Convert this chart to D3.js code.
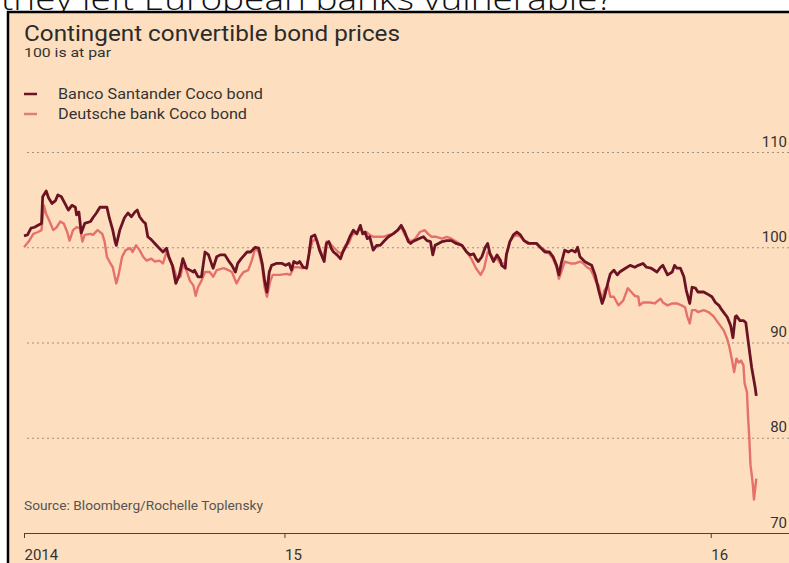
<!DOCTYPE html>
<html>
<head>
<meta charset="utf-8">
<script src="https://cdn.jsdelivr.net/npm/d3@7"></script>
<style>
  body { margin: 0; background: #fff; }
  svg { display: block; }
  text { font-family: Roboto, "Liberation Sans", sans-serif; }
</style>
</head>
<body>
<svg id="chart" width="789" height="563"></svg>
<script>
const startDate = new Date(2014, 4, 23);
const endDate = new Date(2016, 2, 8);

const xTickDates = [new Date(2014, 4, 23), new Date(2015, 0, 1), new Date(2016, 0, 1)];
const xTickLabels = ['2014', '15', '16'];
const yTicks = [70, 80, 90, 100, 110];

const seriesNames = ['Banco Santander Coco bond', 'Deutsche bank Coco bond'];

const santanderDay = [0,3,6,9,12,15,16,19,21,24,27,29,32,35,38,41,44,45,47,49,52,57,59,62,65,69,71,73,76,78,
  79,82,86,89,92,95,97,99,102,104,106,109,112,115,119,122,124,127,130,133,136,139,142,145,146,149,152,155,158,161,
  162,165,168,172,175,178,181,183,186,191,194,198,201,204,206,208,210,212,216,221,224,227,229,231,234,236,239,242,244,246,
  249,251,253,256,257,259,261,263,265,268,271,273,276,279,282,285,288,290,292,294,296,299,302,305,308,312,316,320,323,326,
  329,331,333,338,342,345,348,350,352,355,358,362,366,370,375,379,382,385,387,389,392,395,397,399,402,405,408,409,412,413,
  416,419,422,425,428,432,436,439,442,446,450,453,456,458,460,463,466,469,472,474,476,480,483,486,489,492,495,497,500,502,
  505,508,510,515,519,523,526,530,533,537,542,545,547,551,555,557,559,562,565,567,570,572,575,577,582,585,589,592,595,597,
  600,602,605,607,609,610,613,616,618,620,623,626,627];

const santanderPrice = [101.2,101.3,102.0,102.1,102.3,102.5,105.3,105.9,105.2,104.6,104.9,105.5,105.3,104.6,103.9,104.4,104.2,103.4,103.7,101.5,
  102.5,102.7,103.1,103.6,104.2,104.2,104.2,103.1,101.8,100.6,100.2,101.8,103.1,103.6,103.2,103.7,103.9,103.2,102.7,102.5,
  101.1,100.8,100.4,100.0,99.5,99.9,99.0,98.1,96.2,97.1,98.8,97.8,97.6,97.4,97.6,96.9,96.9,99.5,99.2,98.1,
  97.8,99.0,99.2,99.2,98.6,98.1,97.4,98.3,98.8,99.5,99.5,100.0,99.9,98.3,96.5,95.3,97.4,98.1,98.3,98.3,
  98.1,98.3,97.6,98.5,98.3,98.5,97.9,97.8,99.3,101.1,101.3,100.6,99.7,98.8,98.5,100.4,100.6,99.9,99.5,99.2,
  98.8,99.5,100.2,101.1,101.8,101.4,102.3,101.4,101.6,100.9,101.1,99.7,100.2,100.2,100.6,101.1,101.4,101.8,102.3,101.6,
  100.6,100.4,100.6,100.9,101.1,100.7,100.6,99.2,100.2,100.4,100.6,100.7,100.7,100.4,100.2,99.5,99.2,99.3,98.8,98.5,
  99.0,100.0,100.4,99.3,98.5,99.2,98.6,98.1,97.8,99.2,100.6,101.3,101.6,101.3,100.7,100.4,100.4,100.4,100.0,99.5,
  99.5,99.0,98.1,97.1,98.3,99.7,99.5,99.7,99.5,100.0,99.0,98.5,98.3,98.1,97.1,95.5,94.1,94.8,96.3,97.2,
  97.6,97.1,97.4,97.8,98.1,97.9,98.1,98.3,97.9,97.8,97.4,97.9,98.1,97.1,97.4,98.1,97.8,97.8,96.9,95.5,
  94.1,95.8,95.7,95.3,95.3,95.1,94.8,94.2,93.9,93.5,93.0,92.7,91.8,90.5,92.7,92.8,92.3,92.3,92.1,90.2,
  87.4,85.3,84.4];

const deutscheDay = [0,4,8,12,15,17,19,22,25,28,31,34,37,39,42,45,48,50,52,57,59,63,67,69,71,74,76,79,81,84,
  87,91,93,96,99,102,105,109,112,116,119,122,125,128,131,134,136,139,142,145,147,149,152,155,159,162,165,171,175,178,
  182,185,188,192,195,198,201,204,206,208,211,213,219,225,228,231,235,238,242,245,247,250,253,256,259,262,265,269,272,275,
  278,281,285,288,291,293,296,299,303,308,312,316,320,323,326,331,335,339,343,346,349,353,358,362,366,370,375,379,383,387,
  391,394,397,400,402,405,408,412,413,416,419,422,425,429,433,438,442,446,450,453,456,458,460,463,468,472,476,479,482,485,
  487,490,492,495,497,500,502,505,509,513,517,520,523,526,527,530,536,540,545,547,551,555,559,563,566,568,570,572,575,577,
  582,586,590,593,596,599,602,604,606,608,610,612,614,616,617,619,620,621,622,623,624,625,627];

const deutschePrice = [100.0,100.6,101.4,101.6,101.8,104.4,103.5,102.7,101.8,102.1,102.7,102.5,101.6,100.7,101.8,102.1,102.0,100.6,101.3,101.4,
  101.3,101.8,101.4,100.6,99.0,98.3,97.9,96.2,97.1,99.0,99.7,99.9,99.5,100.2,99.7,99.0,98.6,98.8,98.5,98.6,
  98.3,99.5,98.6,97.9,96.7,96.9,98.1,97.6,96.5,96.0,94.9,95.8,96.5,97.4,97.4,96.9,97.6,97.8,97.6,97.4,
  96.2,96.9,97.4,97.6,98.6,99.9,99.5,97.9,95.8,94.8,96.5,97.1,97.1,97.2,97.1,97.9,97.9,97.8,97.9,99.7,
  100.6,100.9,100.0,98.8,100.6,100.4,100.0,99.5,99.3,100.2,100.4,101.3,101.6,102.0,101.4,101.6,101.3,101.1,101.1,101.1,
  101.3,101.4,101.8,102.1,101.3,100.6,100.9,101.6,101.8,101.4,101.1,101.1,100.9,101.1,100.9,100.6,100.2,99.5,98.8,97.8,
  97.1,97.8,99.5,99.2,98.8,98.8,98.3,98.3,99.2,100.6,101.1,101.3,101.1,100.7,100.4,100.4,100.0,99.7,99.3,98.8,
  97.9,96.7,97.4,98.5,98.3,98.3,98.5,98.3,97.9,97.7,97.2,96.3,96.0,94.4,95.5,96.0,94.8,94.8,93.9,94.4,
  95.7,95.3,94.9,94.8,93.9,94.2,94.2,94.1,94.6,94.2,93.9,94.1,94.1,93.9,93.7,92.7,92.0,93.4,93.4,93.2,
  93.4,93.2,92.8,92.3,91.8,91.3,90.4,89.5,88.3,86.9,88.3,87.9,88.1,87.6,85.7,84.8,82.1,80.0,77.2,76.2,
  75.1,73.5,75.7];

const colors = ['#6b1322', '#e5716a'];

const svg = d3.select('#chart');
const width = 789, height = 563;

// headline of the article, cut by the chart box
svg.append('text')
  .attr('x', 1)
  .attr('y', 10)
  .attr('font-size', 32)
  .attr('fill', '#111')
  .style('font-family', '"Open Sans", sans-serif')
  .style('font-weight', 300)
  .attr('textLength', 612)
  .attr('lengthAdjust', 'spacingAndGlyphs')
  .text('they left European banks vulnerable?');

// chart panel
svg.append('rect')
  .attr('x', 8).attr('y', 12)
  .attr('width', width - 8).attr('height', height - 12)
  .attr('fill', '#fddfbf');
svg.append('line')
  .attr('x1', 7).attr('x2', width).attr('y1', 12).attr('y2', 12)
  .attr('stroke', '#000').attr('stroke-width', 2.5);
svg.append('line')
  .attr('x1', 8).attr('x2', 8).attr('y1', 11).attr('y2', height)
  .attr('stroke', '#000').attr('stroke-width', 2.5);

// scales
let x = d3.scaleTime()
  .domain([startDate, endDate])
  .range([24, 789]);

let y = d3.scaleLinear()
  .domain([70, 110])
  .range([533, 152]);

// y axis with dotted gridlines
let yAxis = d3.axisLeft(y)
  .tickValues(yTicks)
  .tickSize(765)
  .tickFormat(d => d);

let yAxisG = svg.append('g')
  .attr('transform', `translate(${width}, 0)`)
  .call(yAxis);
yAxisG.select('.domain').remove();
yAxisG.selectAll('.tick line')
  .attr('stroke', '#a0907e')
  .attr('stroke-dasharray', '2,3')
  .filter(d => d === 70).remove();
yAxisG.selectAll('.tick text')
  .attr('x', -2)
  .attr('y', -6)
  .attr('dy', 0)
  .attr('font-size', 15)
  .attr('fill', '#333')
  .attr('text-anchor', 'end');

// x axis
let xAxis = d3.axisBottom(x)
  .tickValues(xTickDates)
  .tickSize(5)
  .tickSizeOuter(0)
  .tickFormat((d, i) => xTickLabels[i]);

let xAxisG = svg.append('g')
  .attr('transform', `translate(0, ${y(70)})`)
  .call(xAxis);
xAxisG.select('.domain').attr('stroke', '#4e4034');
xAxisG.selectAll('.tick line').attr('stroke', '#4e4034');
xAxisG.selectAll('.tick text')
  .attr('y', 27)
  .attr('dy', 0)
  .attr('font-size', 15)
  .attr('fill', '#333')
  .attr('text-anchor', 'start');

// lines
const santander = santanderDay.map((d, i) => ({ date: d3.timeDay.offset(startDate, d), value: santanderPrice[i] }));
const deutsche = deutscheDay.map((d, i) => ({ date: d3.timeDay.offset(startDate, d), value: deutschePrice[i] }));

let line = d3.line()
  .x(d => x(d.date))
  .y(d => y(d.value));

svg.append('path')
  .datum(deutsche)
  .attr('d', line)
  .attr('fill', 'none')
  .attr('stroke', colors[1])
  .attr('stroke-width', 2.4)
  .attr('stroke-linejoin', 'round');

svg.append('path')
  .datum(santander)
  .attr('d', line)
  .attr('fill', 'none')
  .attr('stroke', colors[0])
  .attr('stroke-width', 2.8)
  .attr('stroke-linejoin', 'round');

// title block
svg.append('text')
  .attr('x', 24).attr('y', 41)
  .attr('font-size', 22)
  .attr('fill', '#2b2b2b')
  .attr('textLength', 376)
  .attr('lengthAdjust', 'spacingAndGlyphs')
  .text('Contingent convertible bond prices');

svg.append('text')
  .attr('x', 24).attr('y', 57)
  .attr('font-size', 13)
  .attr('fill', '#333')
  .attr('textLength', 87)
  .attr('lengthAdjust', 'spacingAndGlyphs')
  .text('100 is at par');

// legend
const legendWidths = [205, 189];
let legend = svg.append('g')
  .selectAll('g')
  .data(seriesNames)
  .enter()
  .append('g')
  .attr('transform', (d, i) => `translate(24, ${94 + i * 20})`);

legend.append('line')
  .attr('x1', 0).attr('x2', 13)
  .attr('stroke', (d, i) => i === 0 ? colors[0] : '#d9807a')
  .attr('stroke-width', 2.5);

legend.append('text')
  .attr('x', 34).attr('y', 5)
  .attr('font-size', 14)
  .attr('fill', '#333')
  .attr('textLength', (d, i) => legendWidths[i])
  .attr('lengthAdjust', 'spacingAndGlyphs')
  .text(d => d);

// source
svg.append('text')
  .attr('x', 24).attr('y', 510)
  .attr('font-size', 12)
  .attr('fill', '#555')
  .attr('textLength', 239)
  .attr('lengthAdjust', 'spacingAndGlyphs')
  .text('Source: Bloomberg/Rochelle Toplensky');
</script>
</body>
</html>
